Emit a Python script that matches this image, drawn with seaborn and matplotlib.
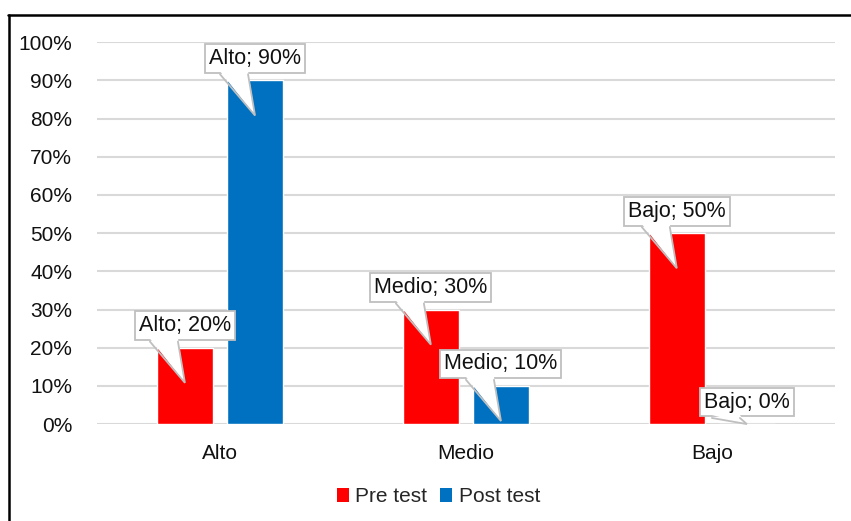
import matplotlib
matplotlib.use("Agg")
import matplotlib.pyplot as plt
from matplotlib.patches import Polygon, Patch
from matplotlib.lines import Line2D
import seaborn as sns
import pandas as pd

# Datos del gráfico
categorias = ["Alto", "Medio", "Bajo"]
series = ["Pre test", "Post test"]
pre_test = [20, 30, 50]
post_test = [90, 10, 0]
colores = ["#FF0000", "#0070C0"]

df = pd.DataFrame({
    "nivel": categorias * 2,
    "serie": [series[0]] * 3 + [series[1]] * 3,
    "valor": pre_test + post_test,
})

sns.set_theme(style="white")
plt.rcParams["font.family"] = ["Liberation Sans", "DejaVu Sans"]

fig = plt.figure(figsize=(8.51, 5.21), dpi=100)
ax = fig.add_axes([0.114, 0.186, 0.867, 0.733])

sns.barplot(data=df, x="nivel", y="valor", hue="serie", order=categorias,
            hue_order=series, palette=colores, width=0.57, gap=0.21,
            saturation=1, legend=False, ax=ax, zorder=3)

ax.set_xlim(-0.5, 2.5)
ax.set_ylim(0, 100)
ax.set_yticks(range(0, 101, 10))
ax.set_yticklabels([f"{v}%" for v in range(0, 101, 10)])
ax.yaxis.grid(True, color="#d9d9d9", linewidth=1.5, zorder=0)
ax.set_axisbelow(True)
for s in ax.spines.values():
    s.set_visible(False)
ax.tick_params(axis="both", length=0, labelsize=15, colors="#111111")
ax.tick_params(axis="y", pad=18)
ax.tick_params(axis="x", pad=14)
ax.set_xlabel("")
ax.set_ylabel("")

# Llamadas (callouts) con la etiqueta de cada barra
px = 3 / (0.867 * 851)     # unidades de x por pixel
py = 100 / (0.733 * 521)   # unidades de y por pixel
borde = "#bfbfbf"
for cont, vals in zip(ax.containers, [pre_test, post_test]):
    for bar, cat, v in zip(cont, categorias, vals):
        cx = bar.get_x() + bar.get_width() / 2
        yc = v + 22 * py
        ax.text(cx, yc, f"{cat}; {v}%", ha="center", va="center", fontsize=15.5,
                color="#111111", zorder=6,
                bbox=dict(boxstyle="square,pad=0.18", fc="white", ec=borde, lw=1.3))
        y_base = v + 1.6
        tip = max(v - 9.2, 0)
        x1, x2 = cx - 35 * px, cx - 7 * px
        tri = Polygon([(x1, y_base + 3 * py), (x2, y_base + 3 * py), (cx, tip)],
                      closed=True, fc="white", ec="none", zorder=7, clip_on=False)
        ax.add_patch(tri)
        ax.plot([x1, cx, x2], [y_base, tip, y_base], color=borde, lw=1.3,
                zorder=7, clip_on=False, solid_joinstyle="miter")

# Leyenda
handles = [Patch(facecolor=c, edgecolor="none", label=s) for c, s in zip(colores, series)]
fig.legend(handles=handles, loc="lower center", bbox_to_anchor=(0.515, -0.008), ncol=2,
           frameon=False, fontsize=15, handlelength=0.6, handleheight=0.6,
           handletextpad=0.3, columnspacing=0.6)

# Marco del gráfico
fig.add_artist(Line2D([8 / 851, 1], [1 - 14.5 / 521] * 2, color="black", lw=1.8,
                      transform=fig.transFigure))
fig.add_artist(Line2D([8.5 / 851] * 2, [0, 1 - 14.5 / 521], color="black", lw=1.8,
                      transform=fig.transFigure))

fig.savefig("out.png", dpi=100)
